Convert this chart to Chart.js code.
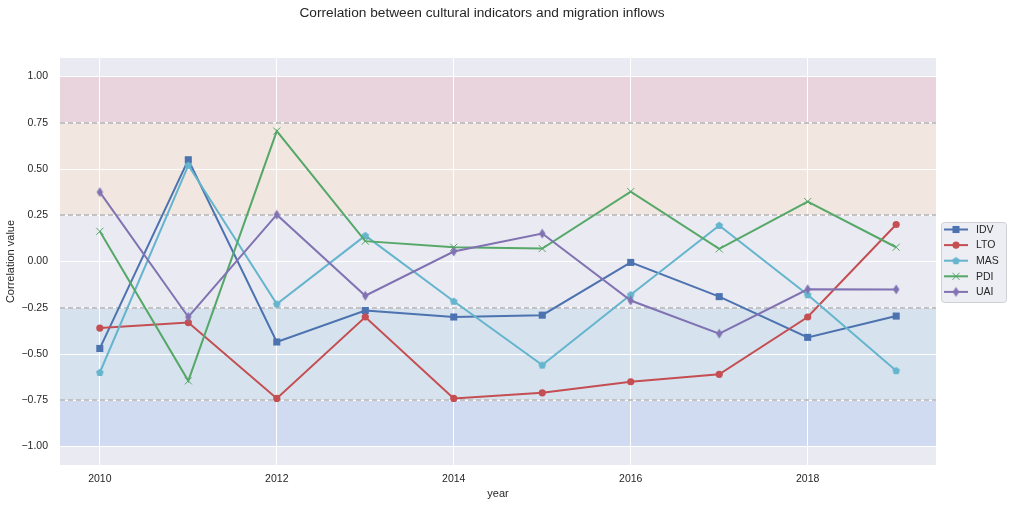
<!DOCTYPE html>
<html>
<head>
<meta charset="utf-8">
<script src="https://cdn.jsdelivr.net/npm/chart.js@4.4.1/dist/chart.umd.min.js"></script>
<style>
  body { margin: 0; background: #ffffff; }
  #wrap { width: 1011px; height: 506px; }
</style>
</head>
<body>
<div id="wrap"><canvas id="myChart" width="1011" height="506"></canvas></div>
<script>
// chart data
const years = [2010, 2011, 2012, 2013, 2014, 2015, 2016, 2017, 2018, 2019]
const idv = [-0.47, 0.55, -0.435, -0.265, -0.30, -0.29, -0.005, -0.19, -0.41, -0.295]
const lto = [-0.36, -0.33, -0.74, -0.30, -0.74, -0.71, -0.65, -0.61, -0.30, 0.20]
const mas = [-0.60, 0.52, -0.23, 0.14, -0.215, -0.56, -0.18, 0.195, -0.18, -0.59]
const pdi = [0.163, -0.645, 0.705, 0.11, 0.077, 0.07, 0.378, 0.068, 0.324, 0.077]
const uai = [0.375, -0.30, 0.253, -0.185, 0.054, 0.151, -0.211, -0.39, -0.15, -0.151]
const seriesNames = ['IDV', 'LTO', 'MAS', 'PDI', 'UAI']
const xTicks = [2010, 2012, 2014, 2016, 2018]
const yTicks = [-1.0, -0.75, -0.5, -0.25, 0.0, 0.25, 0.5, 0.75, 1.0]
// shaded bands and their dashed borders
const bandLow = [0.75, 0.25, -0.75, -1.0]
const bandHigh = [1.0, 0.75, -0.25, -0.75]
const bandColors = ['#e9d3dd', '#f1e7e0', '#d6e3ee', '#d0daf1']
const dashLevels = [0.75, 0.25, -0.25, -0.75]

const colors = ['#4c72b0', '#c44e52', '#64b5cd', '#55a868', '#8172b2']
const FONT = '"Liberation Sans", Arial, sans-serif'

// small canvases for markers chart.js does not have
function makeMarker (shape, color) {
  const c = document.createElement('canvas')
  c.width = 11
  c.height = 11
  const g = c.getContext('2d')
  g.fillStyle = color
  g.beginPath()
  if (shape === 'pentagon') {
    for (let i = 0; i < 5; i++) {
      const a = -Math.PI / 2 + i * 2 * Math.PI / 5
      const px = 5.5 + 4 * Math.cos(a)
      const py = 5.8 + 4 * Math.sin(a)
      if (i === 0) g.moveTo(px, py)
      else g.lineTo(px, py)
    }
  } else {
    g.moveTo(5.5, 0.5)
    g.lineTo(8.7, 5.5)
    g.lineTo(5.5, 10.5)
    g.lineTo(2.3, 5.5)
  }
  g.closePath()
  g.fill()
  return c
}

const styles = [
  { pointStyle: 'rect', radius: 5, borderWidth: 0 },
  { pointStyle: 'circle', radius: 3.6, borderWidth: 0 },
  { pointStyle: makeMarker('pentagon', colors[2]), radius: 4, borderWidth: 0 },
  { pointStyle: 'crossRot', radius: 5, borderWidth: 1 },
  { pointStyle: makeMarker('diamond', colors[4]), radius: 4, borderWidth: 0 }
]
const values = [idv, lto, mas, pdi, uai]

const datasets = seriesNames.map((name, i) => ({
  label: name,
  data: years.map((y, j) => ({ x: y, y: values[i][j] })),
  borderColor: colors[i],
  backgroundColor: colors[i],
  borderWidth: 2,
  pointStyle: styles[i].pointStyle,
  pointRadius: styles[i].radius,
  pointBorderWidth: styles[i].borderWidth,
  pointBorderColor: colors[i],
  pointBackgroundColor: colors[i],
  pointHoverRadius: styles[i].radius,
  tension: 0,
  order: seriesNames.length - i
}))

const backdrop = {
  id: 'backdrop',
  beforeDraw (chart) {
    const { ctx, chartArea: a, scales } = chart
    ctx.save()
    ctx.fillStyle = '#eaeaf2'
    ctx.fillRect(a.left, a.top, a.right - a.left, a.bottom - a.top)
    bandLow.forEach((lo, i) => {
      const y1 = scales.y.getPixelForValue(bandHigh[i])
      const y2 = scales.y.getPixelForValue(lo)
      ctx.fillStyle = bandColors[i]
      ctx.fillRect(a.left, y1, a.right - a.left, y2 - y1)
    })
    ctx.restore()
  },
  beforeDatasetsDraw (chart) {
    const { ctx, chartArea: a, scales } = chart
    ctx.save()
    ctx.strokeStyle = '#c2c2c4'
    ctx.lineWidth = 2
    ctx.setLineDash([5, 3])
    dashLevels.forEach(v => {
      const y = Math.round(scales.y.getPixelForValue(v))
      ctx.beginPath()
      ctx.moveTo(a.left, y)
      ctx.lineTo(a.right, y)
      ctx.stroke()
    })
    ctx.restore()
  },
  afterDraw (chart) {
    const { ctx } = chart
    ctx.save()
    // figure title
    ctx.fillStyle = '#262626'
    ctx.font = '13.7px ' + FONT
    ctx.textAlign = 'center'
    ctx.textBaseline = 'middle'
    ctx.fillText('Correlation between cultural indicators and migration inflows', 482, 13)
    // legend box
    const bx = 941, by = 222, bw = 65, bh = 80
    ctx.fillStyle = 'rgba(234,234,242,0.85)'
    ctx.strokeStyle = '#cfcfd4'
    ctx.lineWidth = 1
    ctx.beginPath()
    ctx.roundRect(bx + 0.5, by + 0.5, bw, bh, 3)
    ctx.fill()
    ctx.stroke()
    ctx.font = '10.5px ' + FONT
    ctx.textAlign = 'left'
    seriesNames.forEach((name, i) => {
      const y = 229.5 + i * 15.6
      ctx.strokeStyle = colors[i]
      ctx.fillStyle = colors[i]
      ctx.lineWidth = 2
      ctx.setLineDash([])
      ctx.beginPath()
      ctx.moveTo(944, y)
      ctx.lineTo(968, y)
      ctx.stroke()
      ctx.lineWidth = styles[i].borderWidth || 1
      Chart.helpers.drawPoint(ctx, {
        pointStyle: styles[i].pointStyle,
        radius: styles[i].radius,
        borderWidth: styles[i].borderWidth,
        rotation: 0
      }, 956, y)
      ctx.fillStyle = '#262626'
      ctx.fillText(name, 976, y + 0.5)
    })
    ctx.restore()
  }
}

createChart = () => {
  const ctx = document.getElementById('myChart').getContext('2d')
  new Chart(ctx, {
    type: 'line',
    data: { datasets: datasets },
    plugins: [backdrop],
    options: {
      responsive: false,
      animation: false,
      devicePixelRatio: 1,
      layout: { padding: { top: 58, right: 75, bottom: 0, left: 0 } },
      plugins: {
        legend: { display: false },
        tooltip: { enabled: false }
      },
      scales: {
        x: {
          type: 'linear',
          min: 2009.55,
          max: 2019.45,
          afterBuildTicks: s => { s.ticks = xTicks.map(v => ({ value: v })) },
          afterFit: s => { s.height = 41 },
          grid: { color: '#ffffff', lineWidth: 1, drawTicks: false },
          border: { display: false },
          ticks: {
            padding: 8,
            color: '#262626',
            font: { family: FONT, size: 10.5 },
            callback: v => String(v)
          },
          title: {
            display: true,
            text: 'year',
            color: '#262626',
            font: { family: FONT, size: 11 },
            padding: { top: 0, bottom: 5 }
          }
        },
        y: {
          min: -1.1,
          max: 1.1,
          afterBuildTicks: s => { s.ticks = yTicks.map(v => ({ value: v })) },
          afterFit: s => { s.width = 60 },
          grid: { color: '#ffffff', lineWidth: 1, drawTicks: false },
          border: { display: false },
          ticks: {
            padding: 12,
            color: '#262626',
            font: { family: FONT, size: 10.5 },
            callback: v => (v < 0 ? '\u2212' : '') + Math.abs(v).toFixed(2)
          },
          title: {
            display: true,
            text: 'Correlation value',
            color: '#262626',
            font: { family: FONT, size: 11 },
            padding: { top: 4, bottom: 0 }
          }
        }
      }
    }
  })
}
createChart()
</script>
</body>
</html>
